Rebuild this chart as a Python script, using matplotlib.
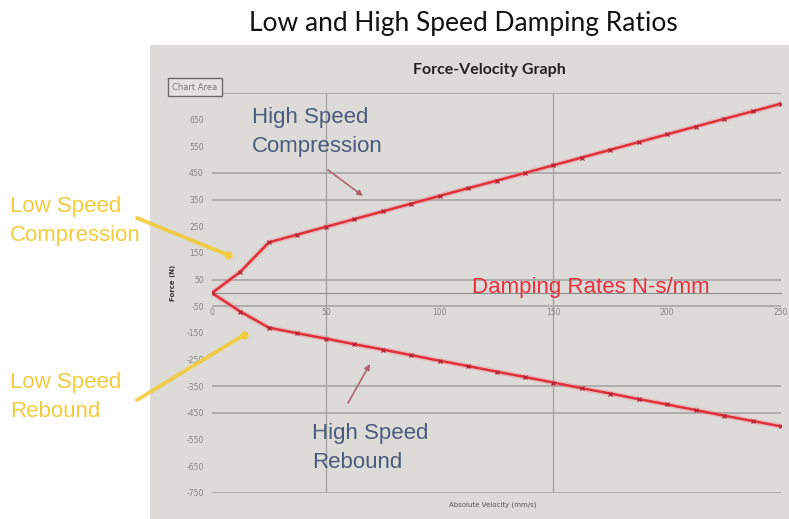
import matplotlib.pyplot as plt
from matplotlib.lines import Line2D
from matplotlib.patches import Rectangle

plt.rcParams["axes.unicode_minus"] = False

# values (velocity mm/s, force N)
velocity = [0, 12.5, 25, 37.5, 50, 62.5, 75, 87.5, 100, 112.5, 125, 137.5,
            150, 162.5, 175, 187.5, 200, 212.5, 225, 237.5, 250]
compression = [0, 80, 190, 219, 248, 277, 306, 335, 364, 393, 421, 450,
               479, 508, 537, 566, 595, 624, 653, 681, 710]
rebound = [0, -70, -130, -151, -171, -192, -212, -233, -254, -274, -295, -315,
           -336, -357, -377, -398, -418, -439, -460, -480, -500]

y_ticks = [-750, -650, -550, -450, -350, -250, -150, -50, 50, 150, 250, 350, 450, 550, 650]
x_ticks = [0, 50, 100, 150, 200, 250]
grid_y = [750, 450, 350, 50, -50, -350, -450, -750]
grid_x = [50, 150]

W, H = 789, 519
fig = plt.figure(figsize=(W / 100, H / 100), dpi=100)
fig.patch.set_facecolor("white")
fig.patches.append(Rectangle((150 / W, 0), 1 - 150 / W, 474 / H, transform=fig.transFigure,
                             facecolor="#dddbd7", edgecolor="none", zorder=0))

ax = fig.add_axes([212 / W, 26 / H, 569 / W, 400 / H])
ax.set_zorder(2)
ax.set_facecolor("none")

for g in grid_y:
    ax.axhline(g, color="#a4a4a2", lw=1.2, zorder=1)
for g in grid_x:
    ax.axvline(g, color="#a4a4a2", lw=1.0, zorder=1)

red = "#e0303c"
for s in (compression, rebound):
    ax.plot(velocity, s, color="#f08890", lw=4, alpha=0.35, zorder=2)
    ax.plot(velocity, s, color=red, lw=1.8, marker="x", ms=3, mew=0.9,
            mec="#b02232", zorder=3)

ax.set_xlim(0, 250)
ax.set_ylim(-750, 750)
for sp in ("top", "right", "left"):
    ax.spines[sp].set_visible(False)
ax.spines["bottom"].set_position(("data", 0))
ax.spines["bottom"].set_color("#8c8c8c")
ax.set_xticks(x_ticks)
ax.set_yticks(y_ticks)
ax.tick_params(axis="x", length=0, labelsize=5.5, colors="#858585", pad=11)
ax.tick_params(axis="y", length=0, labelsize=5.5, colors="#858585", pad=6)


def px(x, y):
    return x / W, 1 - y / H


fig.text(*px(463, 24), "Low and High Speed Damping Ratios", fontsize=19,
         family="Lato", ha="center", va="center", color="#111111")
fig.text(*px(489, 70), "Force-Velocity Graph", fontsize=11.5, family="Lato",
         weight="bold", ha="center", va="center", color="#222222")
fig.text(*px(195, 87), "Chart Area", fontsize=6, ha="center", va="center",
         color="#777777", zorder=5,
         bbox=dict(boxstyle="square,pad=0.55", fc="#e4e2de", ec="#6a6a6a", lw=1))
fig.text(*px(173, 283), "Force (N)", fontsize=5, weight="bold", rotation=90,
         ha="center", va="center", color="#333333")
fig.text(*px(493, 505), "Absolute Velocity (mm/s)", fontsize=5, ha="center",
         va="center", color="#555555")

blue = "#4b5a7d"
fig.text(*px(252, 132), "High Speed\nCompression", fontsize=16, family="Liberation Sans",
         ha="left", va="center", color=blue, linespacing=1.45)
fig.text(*px(312, 448), "High Speed\nRebound", fontsize=16, family="Liberation Sans",
         ha="left", va="center", color=blue, linespacing=1.45)
fig.text(*px(591, 287), "Damping Rates N-s/mm", fontsize=16, family="Liberation Sans",
         ha="center", va="center", color="#e8303f")

yellow = "#f2cc3c"
fig.text(*px(10, 221), "Low Speed\nCompression", fontsize=16, family="Liberation Sans",
         ha="left", va="center", color=yellow, linespacing=1.45)
fig.text(*px(10, 397), "Low Speed\nRebound", fontsize=16, family="Liberation Sans",
         ha="left", va="center", color=yellow, linespacing=1.45)

arrow_red = "#b06470"
for start, end in [(px(328, 170), px(363, 196)), (px(348, 403), px(370, 364))]:
    ax.annotate("", xy=end, xytext=start, xycoords="figure fraction",
                annotation_clip=False,
                arrowprops=dict(arrowstyle="-|>", color=arrow_red, lw=1.2,
                                mutation_scale=8, shrinkA=0, shrinkB=0))

# yellow pointer strokes with a blob at the tip
for start, end in [(px(137, 218), px(228, 255)), (px(137, 400), px(244, 335))]:
    fig.add_artist(Line2D([start[0], end[0]], [start[1], end[1]], transform=fig.transFigure,
                          color=yellow, lw=2.8, alpha=0.9, solid_capstyle="round", zorder=4))
    fig.add_artist(Line2D([end[0]], [end[1]], transform=fig.transFigure, marker="o",
                          ms=6, color=yellow, mec="none", alpha=0.9, zorder=4))

fig.savefig("out.png", dpi=100)
